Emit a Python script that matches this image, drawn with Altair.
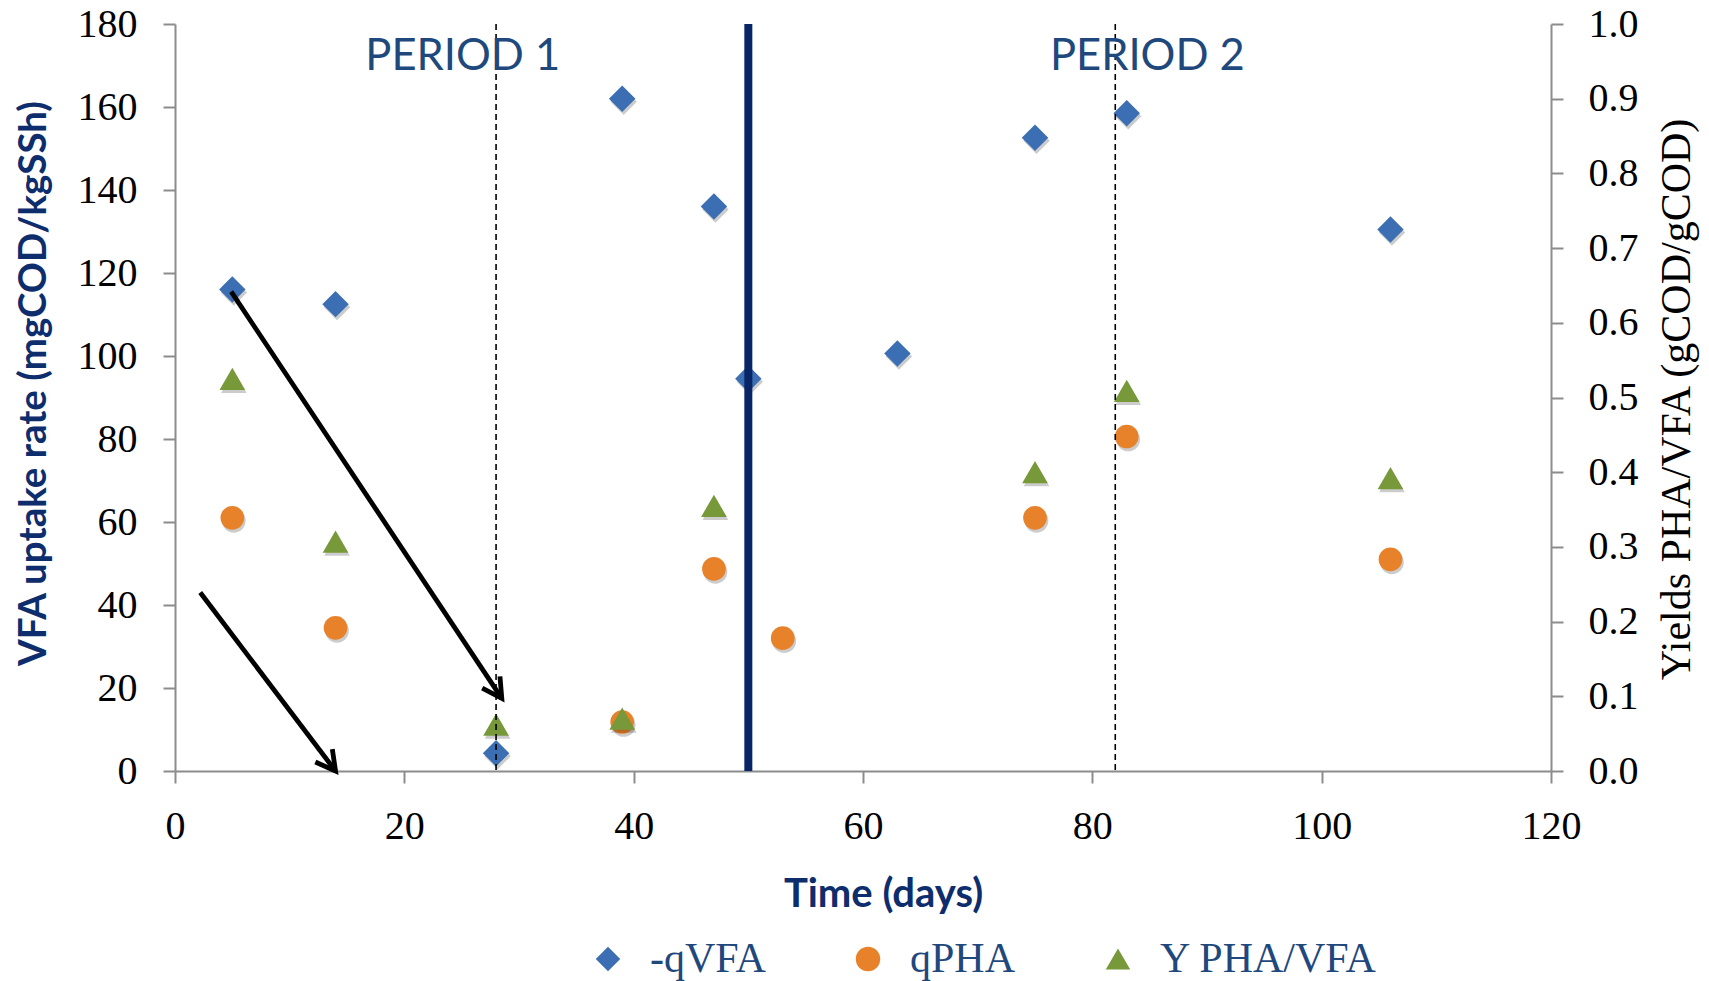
import math

import altair as alt
import pandas as pd

# ---- measured series -------------------------------------------------------
vfa_days = [5, 14, 28, 39, 47, 50, 63, 75, 83, 106]
vfa_rate = [116.0, 112.5, 4.3, 162.0, 136.0, 94.5, 100.6, 152.6, 158.5, 130.5]

pha_days = [5, 14, 39, 47, 53, 75, 83, 106]
pha_rate = [61.0, 34.5, 11.8, 48.7, 32.0, 61.0, 80.6, 51.0]

yield_days = [5, 14, 28, 39, 47, 75, 83, 106]
yield_pha_vfa = [0.525, 0.307, 0.062, 0.070, 0.355, 0.400, 0.509, 0.392]

series_names = ["-qVFA", "qPHA", "Y PHA/VFA"]

# ---- annotations -----------------------------------------------------------
dashed_days = [28, 82]
switch_day = [50]

period_labels = ["PERIOD 1", "PERIOD 2"]
period_days = [25.1, 84.8]
period_level = [172, 172]

arrow_start_day = [4.9, 2.2]
arrow_start_val = [115.5, 43.0]
arrow_end_day = [28.5, 14.0]
arrow_end_val = [17.5, 0.0]

# ---- axis ticks ------------------------------------------------------------
x_ticks = [0, 20, 40, 60, 80, 100, 120]
left_ticks = [0, 20, 40, 60, 80, 100, 120, 140, 160, 180]
right_ticks = [0.0, 0.1, 0.2, 0.3, 0.4, 0.5, 0.6, 0.7, 0.8, 0.9, 1.0]

# ---- styling ---------------------------------------------------------------
W, H = 1376, 747
NAVY = "#0E2D6D"
STEEL = "#1F497D"
GRAY = "#8C8C8C"
SERIF = "Liberation Serif"
SANS = "Lato"
series_colors = ["#3B6EB2", "#E8822A", "#78993A"]
series_shapes = ["diamond", "circle", "triangle-up"]
CHEVRON = "M-0.55,-1L0,0L0.55,-1"

vfa_df = pd.DataFrame({"day": vfa_days, "value": vfa_rate, "series": series_names[0]})
pha_df = pd.DataFrame({"day": pha_days, "value": pha_rate, "series": series_names[1]})
yield_df = pd.DataFrame(
    {"day": yield_days, "value": yield_pha_vfa, "series": series_names[2]}
)

arrows_df = pd.DataFrame(
    {
        "x1": arrow_start_day,
        "y1": arrow_start_val,
        "x2": arrow_end_day,
        "y2": arrow_end_val,
    }
)
# rotate the chevron head along each arrow's on-screen direction
arrows_df["angle"] = [
    math.degrees(
        math.atan2(-(r.x2 - r.x1) * W / 120.0, -(r.y2 - r.y1) * H / 180.0)
    )
    % 360
    for r in arrows_df.itertuples()
]

periods_df = pd.DataFrame(
    {"label": period_labels, "day": period_days, "level": period_level}
)

x_scale = alt.Scale(domain=[0, 120], nice=False, zero=False)
left_scale = alt.Scale(domain=[0, 180], nice=False, zero=False)
right_scale = alt.Scale(domain=[0, 1], nice=False, zero=False)

common_axis = dict(
    grid=False,
    labelFont=SERIF,
    labelFontSize=40,
    labelColor="black",
    labelOverlap=False,
    labelFlush=False,
    tickSize=12,
    tickWidth=2,
    tickColor=GRAY,
    domainColor=GRAY,
    domainWidth=2,
)

x_axis = alt.Axis(
    values=x_ticks,
    title="Time (days)",
    titleFont=SANS,
    titleFontSize=40,
    titleFontWeight="bold",
    titleColor=NAVY,
    titleX=708,
    titleY=123,
    titleAlign="center",
    titleBaseline="middle",
    labelPadding=23,
    **common_axis,
)
left_axis = alt.Axis(
    orient="left",
    values=left_ticks,
    title="VFA uptake rate (mgCOD/kgSSh)",
    titleFont=SANS,
    titleFontSize=38.5,
    titleFontWeight="bold",
    titleColor=NAVY,
    titleAngle=270,
    titleX=-142,
    titleY=359,
    titleAlign="center",
    titleBaseline="middle",
    labelPadding=26,
    **common_axis,
)
right_axis = alt.Axis(
    orient="right",
    values=right_ticks,
    format=".1f",
    title="Yields PHA/VFA (gCOD/gCOD)",
    titleFont=SERIF,
    titleFontSize=42,
    titleFontWeight="normal",
    titleColor="black",
    titleAngle=270,
    titleX=125,
    titleY=375,
    titleAlign="center",
    titleBaseline="middle",
    labelPadding=25,
    **common_axis,
)

legend = alt.Legend(
    orient="none",
    legendX=412,
    legendY=914,
    direction="horizontal",
    title=None,
    labelFont=SERIF,
    labelFontSize=42,
    labelColor=STEEL,
    labelOffset=21,
    labelLimit=600,
    columnPadding=81,
    symbolSize=600,
    symbolStrokeWidth=0,
    symbolOpacity=1,
)

X = alt.X("day:Q", scale=x_scale, axis=x_axis)
color = alt.Color(
    "series:N", scale=alt.Scale(domain=series_names, range=series_colors), legend=legend
)
shape = alt.Shape(
    "series:N", scale=alt.Scale(domain=series_names, range=series_shapes), legend=legend
)


def series_layers(df, scale, axis, size):
    """Soft drop shadow plus the filled marker for one series."""
    shadow = alt.Chart(df).mark_point(
        filled=True, color="black", opacity=0.2, xOffset=1.5, yOffset=3, size=size
    ).encode(x=X, y=alt.Y("value:Q", scale=scale, axis=None), shape=shape)
    points = alt.Chart(df).mark_point(filled=True, opacity=1, size=size).encode(
        x=X,
        y=alt.Y("value:Q", scale=scale, axis=axis),
        color=color,
        shape=shape,
    )
    return [shadow, points]


dashed_lines = alt.Chart(pd.DataFrame({"day": dashed_days})).mark_rule(
    color="black", strokeWidth=1.6, strokeDash=[6, 4]
).encode(x=X)
switch_line = alt.Chart(pd.DataFrame({"day": switch_day})).mark_rule(
    color="#082566", strokeWidth=8
).encode(x=X)

arrow_shafts = alt.Chart(arrows_df).mark_rule(color="black", strokeWidth=4.8).encode(
    x=alt.X("x1:Q", scale=x_scale, axis=x_axis),
    y=alt.Y("y1:Q", scale=left_scale, axis=None),
    x2="x2:Q",
    y2="y2:Q",
)
arrow_heads = alt.Chart(arrows_df).mark_point(
    shape=CHEVRON, filled=False, color="black", strokeWidth=4.8, size=1500, opacity=1
).encode(
    x=alt.X("x2:Q", scale=x_scale, axis=x_axis),
    y=alt.Y("y2:Q", scale=left_scale, axis=None),
    angle=alt.Angle("angle:Q", scale=None),
)

period_text = alt.Chart(periods_df).mark_text(
    font=SANS, fontSize=43.5, color=STEEL, align="center", baseline="middle"
).encode(
    x=X,
    y=alt.Y("level:Q", scale=left_scale, axis=None),
    text="label:N",
)

layers = (
    series_layers(vfa_df, left_scale, left_axis, 700)
    + series_layers(pha_df, left_scale, None, 560)
    + series_layers(yield_df, right_scale, right_axis, 660)
    + [dashed_lines, switch_line, arrow_shafts, arrow_heads, period_text]
)

chart = (
    alt.layer(*layers)
    .resolve_scale(y="independent")
    .properties(
        width=W,
        height=H,
        autosize=alt.AutoSizeParams(type="none"),
        padding={"left": 175, "top": 24, "right": 158, "bottom": 210},
        background="white",
    )
    .configure_view(stroke=None)
)

chart.save("out.html", embed_options={"renderer": "svg", "actions": False})
